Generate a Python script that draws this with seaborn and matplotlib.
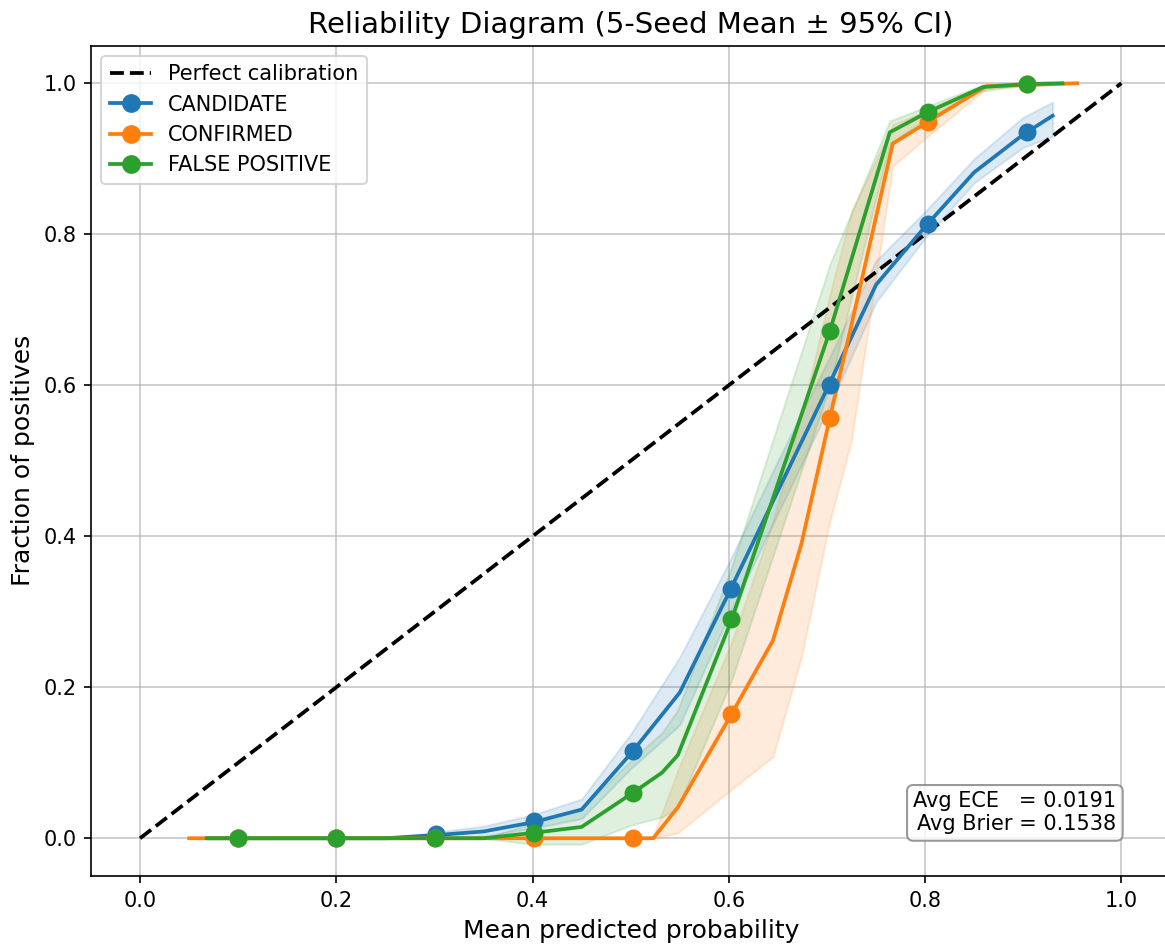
import matplotlib
matplotlib.use("Agg")
import matplotlib.pyplot as plt
from matplotlib.lines import Line2D
import seaborn as sns

# ---------------- data ----------------
classes = ["CANDIDATE", "CONFIRMED", "FALSE POSITIVE"]

# mean curves (common-grid averaged)
cand_x = [0.07, 0.25, 0.30, 0.35, 0.40, 0.45, 0.50, 0.55, 0.60, 0.65, 0.70, 0.75, 0.80, 0.85, 0.90, 0.93]
cand_y = [0.0, 0.0, 0.004, 0.009, 0.021, 0.038, 0.112, 0.193, 0.325, 0.46, 0.595, 0.733, 0.81, 0.882, 0.932, 0.957]
cand_lo = [0.0, 0.0, 0.0, 0.003, 0.013, 0.026, 0.092, 0.150, 0.295, 0.43, 0.565, 0.71, 0.795, 0.868, 0.915, 0.93]
cand_hi = [0.0, 0.0, 0.008, 0.016, 0.031, 0.052, 0.138, 0.240, 0.365, 0.50, 0.63, 0.765, 0.83, 0.90, 0.955, 0.975]

conf_x = [0.05, 0.10, 0.20, 0.30, 0.40, 0.50, 0.523, 0.548, 0.603, 0.645, 0.674, 0.703, 0.725, 0.767, 0.803, 0.862, 0.955]
conf_y = [0.0, 0.0, 0.0, 0.0, 0.0, 0.0, 0.0, 0.041, 0.165, 0.262, 0.39, 0.557, 0.68, 0.92, 0.949, 0.996, 1.0]
conf_lo = [0.0, 0.0, 0.0, 0.0, 0.0, 0.0, 0.0, 0.007, 0.065, 0.108, 0.24, 0.42, 0.527, 0.89, 0.93, 0.993, 1.0]
conf_hi = [0.0, 0.0, 0.0, 0.0, 0.0, 0.0, 0.003, 0.09, 0.26, 0.42, 0.56, 0.72, 0.83, 0.945, 0.965, 0.998, 1.0]

fp_x = [0.068, 0.10, 0.20, 0.30, 0.35, 0.40, 0.45, 0.502, 0.532, 0.548, 0.603, 0.703, 0.764, 0.803, 0.859, 0.904, 0.94]
fp_y = [0.0, 0.0, 0.0, 0.0, 0.0, 0.007, 0.015, 0.06, 0.087, 0.11, 0.29, 0.672, 0.935, 0.962, 0.995, 0.999, 1.0]
fp_lo = [0.0, 0.0, 0.0, 0.0, 0.0, -0.008, -0.008, 0.018, 0.028, 0.04, 0.21, 0.6, 0.92, 0.955, 0.99, 0.998, 1.0]
fp_hi = [0.0, 0.0, 0.0, 0.0, 0.0, 0.02, 0.04, 0.105, 0.14, 0.17, 0.36, 0.76, 0.95, 0.97, 0.998, 1.0, 1.0]

# bin markers
cand_mx = [0.10, 0.20, 0.302, 0.4015, 0.502, 0.602, 0.703, 0.803, 0.904]
cand_my = [0.0, 0.0, 0.005, 0.023, 0.116, 0.330, 0.600, 0.813, 0.935]
conf_mx = [0.10, 0.20, 0.301, 0.4015, 0.502, 0.602, 0.703, 0.803, 0.904]
conf_my = [0.0, 0.0, 0.0, 0.0, 0.0, 0.165, 0.557, 0.949, 0.999]
fp_mx = [0.10, 0.20, 0.301, 0.4015, 0.502, 0.602, 0.703, 0.803, 0.904]
fp_my = [0.0, 0.0, 0.0, 0.007, 0.060, 0.290, 0.672, 0.962, 0.999]

avg_ece = 0.0191
avg_brier = 0.1538

# ---------------- plot ----------------
W, H, DPI = 1165, 945, 150
fig = plt.figure(figsize=(W / DPI, H / DPI), dpi=DPI)
ax = fig.add_axes([91 / W, 69 / H, 1079.4 / W, 830.5 / H])

palette = sns.color_palette("tab10")
colors = [palette[0], palette[1], palette[2]]

series = [
    (cand_x, cand_y, cand_lo, cand_hi, cand_mx, cand_my),
    (conf_x, conf_y, conf_lo, conf_hi, conf_mx, conf_my),
    (fp_x, fp_y, fp_lo, fp_hi, fp_mx, fp_my),
]

sns.lineplot(x=[0, 1], y=[0, 1], ax=ax, color="black", linestyle="--", linewidth=1.8, zorder=2)

handles = [Line2D([0], [0], color="black", linestyle="--", linewidth=1.8, label="Perfect calibration")]
for name, col, (lx, ly, lo, hi, mx, my) in zip(classes, colors, series):
    ax.fill_between(lx, lo, hi, color=col, alpha=0.15, linewidth=1, zorder=1)
    sns.lineplot(x=lx, y=ly, ax=ax, color=col, linewidth=1.8, estimator=None, sort=False, zorder=3)
    sns.scatterplot(x=mx, y=my, ax=ax, color=col, s=58, edgecolor=col, linewidth=1, zorder=4)
    handles.append(Line2D([0], [0], color=col, linewidth=1.8, marker="o", markersize=8, label=name))

ax.set_xlim(-0.05, 1.05)
ax.set_ylim(-0.05, 1.05)
ax.set_xticks([0.0, 0.2, 0.4, 0.6, 0.8, 1.0])
ax.set_yticks([0.0, 0.2, 0.4, 0.6, 0.8, 1.0])
ax.grid(True, alpha=0.7)
ax.set_axisbelow(True)
ax.tick_params(labelsize=10)

ax.set_xlabel("Mean predicted probability", fontsize=12)
ax.set_ylabel("Fraction of positives", fontsize=12)
ax.set_title("Reliability Diagram (5-Seed Mean \u00b1 95% CI)", fontsize=14)

ax.legend(handles=handles, loc="upper left", fontsize=10)

ax.text(0.95, 0.05, f"Avg ECE   = {avg_ece:.4f}\nAvg Brier = {avg_brier:.4f}",
        transform=ax.transAxes, ha="right", va="bottom", multialignment="right",
        fontsize=10,
        bbox=dict(boxstyle="round", facecolor="white", edgecolor="gray", alpha=0.8))

fig.savefig("out.png", dpi=DPI)
